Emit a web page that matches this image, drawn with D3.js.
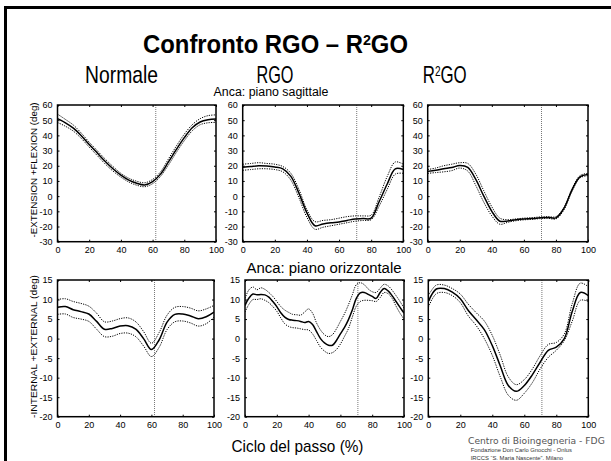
<!DOCTYPE html>
<html>
<head>
<meta charset="utf-8">
<script src="https://cdn.jsdelivr.net/npm/d3@7"></script>
<style>
  html, body { margin: 0; padding: 0; background: #fff; }
  svg { display: block; font-family: "Liberation Sans", Arial, sans-serif; }
</style>
</head>
<body>
<svg id="chart" width="611" height="461"></svg>
<script>
// ---- Gait cycle sampling (% of stride) ----
const cycle = [0,5,10,15,20,25,30,35,40,45,50,55,60,65,70,75,80,85,90,95,100];
const cycleFine = [0,2.5,5,7.5,10,12.5,15,17.5,20,22.5,25,27.5,30,32.5,35,37.5,40,42.5,45,47.5,
                   50,52.5,55,57.5,60,62.5,65,67.5,70,72.5,75,77.5,80,82.5,85,87.5,90,92.5,95,97.5,100];

// ---- Tick labels ----
const xTicks = [0,20,40,60,80,100];
const yTicksSag = [-30,-20,-10,0,10,20,30,40,50,60];
const yTicksTra = [-20,-15,-10,-5,0,5,10,15];

// ---- Toe-off (% of cycle) per group ----
const toeOff = { normale: 62, rgo: 71, r2go: 71 };

// ---- Hip, sagittal plane (deg): mean, +SD, -SD ----
const sagNormMean = [51, 48.3, 44.8, 39.8, 34, 28.5, 23, 18, 13.8, 10.5, 8.5, 7.4, 9.6, 14.5, 22.5, 30.8, 38.5, 45, 48.8, 50.3, 50.8];
const sagNormUp   = [54, 50.5, 46.8, 41.5, 35.5, 30, 24.5, 19.5, 15, 11.8, 9.8, 8.8, 11, 16, 24.5, 33, 40.8, 47, 51, 53, 53.5];
const sagNormLo   = [48.5, 46, 42.8, 38, 32.3, 26.8, 21.3, 16.5, 12.5, 9.3, 7.2, 6.2, 8.2, 13, 20.5, 28.8, 36.5, 43, 47, 48.3, 48.5];

const sagRgoMean = [19, 19.5, 20, 19.8, 19.2, 18, 13, 2, -11, -19.5, -18.3, -17.5, -17, -16, -15, -14.8, -14.5, -3.5, 8, 18, 17.5];
const sagRgoUp   = [21, 21.5, 22, 21.5, 21, 19.5, 15, 4.5, -9, -16.8, -16, -15.5, -14.5, -13.5, -13, -13, -12.5, -0.5, 13, 22.5, 21];
const sagRgoLo   = [17, 17.5, 18, 18, 17.5, 16, 10.5, -1, -14, -21.8, -20.5, -19.5, -18.5, -17.5, -16.5, -16, -15.5, -6.5, 4.5, 14.5, 15];

const sagR2Mean = [16.3, 17, 18, 18.8, 20.2, 19, 11, 0, -10, -16.5, -16.3, -15.5, -15, -14.8, -14.3, -14, -14.3, -8, 4, 12.7, 14.3];
const sagR2Up   = [17.5, 18.5, 20, 21, 22, 21.5, 14.5, 3.5, -7, -14.5, -15.5, -15, -14.5, -14.2, -13.7, -13.5, -13.5, -7.5, 4.8, 13.5, 15];
const sagR2Lo   = [15, 15.5, 16, 16.8, 18.5, 16.5, 7, -4, -13, -18.5, -17.2, -16.2, -15.6, -15.3, -14.8, -14.6, -15, -9, 3.2, 12, 13.5];

// ---- Hip, transverse plane (deg): mean, +SD, -SD ----
const traNormMean = [8, 8.2, 7.4, 6.9, 6.3, 4.4, 2.4, 2.6, 3.2, 3.3, 2.4, 0, -2.8, -0.3, 4.2, 6.2, 6.3, 5.8, 5.1, 5.6, 6.8];
const traNormUp   = [10, 10.2, 9.5, 9, 8.3, 6.5, 4.3, 4.5, 5.1, 5.3, 4.3, 1.8, -1.2, 1.6, 6, 8, 8.2, 7.8, 7.1, 7.6, 8.5];
const traNormLo   = [6.2, 6.3, 5.4, 5, 4.4, 2.4, 0.5, 0.6, 1.3, 1.4, 0.5, -1.9, -4.6, -2.2, 2.3, 4.3, 4.5, 4, 3.2, 3.8, 5.5];

const traRgoMean = [8.5, 10.4, 11.4, 11.2, 11.3, 11.2, 10.6, 9.5, 8.2, 6.6, 5.5, 4.9, 4.7, 4.6, 4.4, 4.1, 4.4, 3.6, 1.8, 0,
                    -1.1, -1.7, -1.7, -0.5, 1.2, 2.8, 4.8, 7.3, 10.3, 11.7, 11.8, 11.3, 10.8, 10.3, 11.8, 12.8, 12.2, 11, 9.5, 8, 6.5];
const traRgoUp   = [10.3, 12.5, 13.2, 12.5, 13, 12.6, 11.8, 10.8, 9.5, 8.2, 7.3, 6.7, 6.2, 6.1, 6, 6.8, 7.6, 6.5, 4, 2.2,
                    1, 0.5, 1, 2.5, 4.4, 6.3, 8.6, 11.2, 13.8, 14.3, 13.8, 12.7, 12, 11.8, 12.9, 13.9, 13.5, 12.4, 11, 9.5, 7.8];
const traRgoLo   = [6.8, 8.8, 10, 10, 10.2, 9.8, 9.2, 8.2, 7, 5.3, 3.8, 3.1, 2.8, 2.7, 2.5, 2.3, 2.2, 1.2, -0.5, -2.2,
                    -3.2, -3.8, -3.6, -2.8, -1.4, 0.5, 2.5, 5.5, 8.3, 9.5, 9.8, 9.8, 9.7, 9.5, 10.5, 11.8, 11.5, 10.3, 8.3, 6.5, 5];

const traR2Mean = [9.5, 12.7, 12.8, 11.9, 10.2, 7.2, 4.8, 2.3, -1.8, -7, -12, -13.5, -12, -9.3, -6, -3, -2.2, 0, 7, 11.8, 11];
const traR2Up   = [11, 13.7, 13.7, 12.8, 11.4, 8.8, 6.6, 4.5, 0.8, -4.3, -9.8, -11.8, -10.5, -7.8, -4.3, -1.5, -1, 1.2, 9, 14.2, 13.3];
const traR2Lo   = [8, 11.5, 11.8, 11, 9.2, 5.8, 3.3, 0, -4.3, -9.8, -14.5, -15.8, -14, -11.3, -7.7, -4.8, -3, -0.5, 4.5, 9.8, 9.5];

// ---- Layout of the six axes ----
const rowTop = { top: 105, bottom: 241.7 };
const rowBot = { top: 280, bottom: 416.7 };
const panels = [
  { xr: [57.5, 216],   row: rowTop, dom: [-30, 60], yt: yTicksSag, cyc: cycle,     mean: sagNormMean, up: sagNormUp, lo: sagNormLo, toe: toeOff.normale },
  { xr: [242.7, 403.3], row: rowTop, dom: [-30, 60], yt: yTicksSag, cyc: cycle,     mean: sagRgoMean,  up: sagRgoUp,  lo: sagRgoLo,  toe: toeOff.rgo },
  { xr: [427.7, 588],   row: rowTop, dom: [-30, 60], yt: yTicksSag, cyc: cycle,     mean: sagR2Mean,   up: sagR2Up,   lo: sagR2Lo,   toe: toeOff.r2go },
  { xr: [57.5, 214],   row: rowBot, dom: [-20, 15], yt: yTicksTra, cyc: cycle,     mean: traNormMean, up: traNormUp, lo: traNormLo, toe: toeOff.normale },
  { xr: [245, 404],     row: rowBot, dom: [-20, 15], yt: yTicksTra, cyc: cycleFine, mean: traRgoMean,  up: traRgoUp,  lo: traRgoLo,  toe: toeOff.rgo },
  { xr: [428.3, 588.3], row: rowBot, dom: [-20, 15], yt: yTicksTra, cyc: cycle,     mean: traR2Mean,   up: traR2Up,   lo: traR2Lo,   toe: toeOff.r2go }
];

const svg = d3.select('#chart');

// Slide frame (left and top edges)
svg.append('path')
  .attr('d', 'M5.5,461 V7.5 H611')
  .attr('fill', 'none').attr('stroke', '#000').attr('stroke-width', 3);

function drawPanel(p, i) {
  const x = d3.scaleLinear().domain([0, 100]).range(p.xr);
  const y = d3.scaleLinear().domain(p.dom).range([p.row.bottom, p.row.top]);
  const g = svg.append('g');

  const clipId = 'clip' + i;
  svg.append('clipPath').attr('id', clipId)
    .append('rect')
    .attr('x', p.xr[0]).attr('y', p.row.top)
    .attr('width', p.xr[1] - p.xr[0]).attr('height', p.row.bottom - p.row.top);

  const plot = g.append('g').attr('clip-path', `url(#${clipId})`);

  // toe-off marker
  plot.append('line')
    .attr('x1', x(p.toe)).attr('x2', x(p.toe))
    .attr('y1', p.row.top).attr('y2', p.row.bottom)
    .attr('stroke', '#777').attr('stroke-width', 1)
    .attr('stroke-dasharray', '1,1');

  const line = d3.line()
    .x((d, k) => x(p.cyc[k]))
    .y(d => y(d))
    .curve(d3.curveCatmullRom.alpha(0.5));

  [p.up, p.lo].forEach(s => {
    plot.append('path').attr('d', line(s))
      .attr('fill', 'none').attr('stroke', '#000')
      .attr('stroke-width', 1).attr('stroke-dasharray', '1.2,1.2');
  });
  plot.append('path').attr('d', line(p.mean))
    .attr('fill', 'none').attr('stroke', '#000').attr('stroke-width', 1.5);

  const fmt = d => String(d);
  const styleAxis = a => {
    a.attr('font-family', null).attr('font-size', 9);
    a.select('.domain').remove();
    a.selectAll('.tick line').attr('stroke', '#000');
    a.selectAll('.tick text').attr('fill', '#000');
  };

  g.append('g').attr('transform', `translate(0,${p.row.bottom})`)
    .call(d3.axisBottom(x).tickValues(xTicks).tickSizeInner(-2).tickSizeOuter(0).tickPadding(4.6).tickFormat(fmt))
    .call(styleAxis);
  g.append('g').attr('transform', `translate(0,${p.row.top})`)
    .call(d3.axisTop(x).tickValues(xTicks).tickSizeInner(-2).tickSizeOuter(0).tickFormat(''))
    .call(styleAxis);
  g.append('g').attr('transform', `translate(${p.xr[0]},0)`)
    .call(d3.axisLeft(y).tickValues(p.yt).tickSizeInner(-2).tickSizeOuter(0).tickPadding(5).tickFormat(fmt))
    .call(styleAxis);
  g.append('g').attr('transform', `translate(${p.xr[1]},0)`)
    .call(d3.axisRight(y).tickValues(p.yt).tickSizeInner(-2).tickSizeOuter(0).tickFormat(''))
    .call(styleAxis);

  g.append('rect')
    .attr('x', p.xr[0]).attr('y', p.row.top)
    .attr('width', p.xr[1] - p.xr[0]).attr('height', p.row.bottom - p.row.top)
    .attr('fill', 'none').attr('stroke', '#000').attr('stroke-width', 1.5);
}

panels.forEach(drawPanel);

// Text fitted to a given width; parts may contain {sup: '...'} pieces
function fitText(parts, px, py, width, size, opts = {}) {
  const t = svg.append('text')
    .attr('x', 0).attr('y', 0)
    .attr('text-anchor', opts.anchor || 'middle')
    .attr('font-size', size)
    .attr('fill', opts.fill || '#000')
    .attr('font-weight', opts.weight || 'normal');
  if (opts.family) t.attr('font-family', opts.family);
  let shift = 0;
  parts.forEach(part => {
    if (typeof part === 'string') {
      t.append('tspan').attr('dy', -shift).text(part);
      shift = 0;
    } else {
      const s = opts.supShift || size * 0.34;
      t.append('tspan').attr('dy', -s).attr('font-size', size * 0.6).text(part.sup);
      shift = -s;
    }
  });
  const w = t.node().getBBox().width;
  const k = width / w;
  t.attr('transform', `translate(${px},${py}) rotate(${opts.rotate || 0}) scale(${k},1)`);
  return t;
}

// Titles
fitText(['Confronto RGO \u2013 R', { sup: '2' }, 'GO'], 275.5, 53.3, 265, 25, { weight: 'bold', supShift: 8.5 });
fitText(['Normale'], 121.5, 83, 73, 24);
fitText(['RGO'], 275, 83, 37, 24);
fitText(['R', { sup: '2' }, 'GO'], 444.7, 83, 44, 24, { supShift: 7.5 });
fitText(['Anca: piano sagittale'], 271, 95.5, 115, 13.5);
fitText(['Anca: piano orizzontale'], 324, 273, 155, 15.4);
fitText(['Ciclo del passo (%)'], 297.5, 451.5, 132, 16);

// Y axis titles
fitText(['-EXTENSION +FLEXION (deg)'], 37, 170, 135, 9.7, { rotate: -90 });
fitText(['-INTERNAL +EXTERNAL (deg)'], 37, 346.5, 143, 9.7, { rotate: -90 });

// Footer credits
fitText(['Centro di Bioingegneria - FDG'], 468, 444, 137, 8.5, { anchor: 'start', fill: '#555', family: '"DejaVu Sans", Verdana, sans-serif' });
fitText(['Fondazione Don Carlo Gnocchi - Onlus'], 470.7, 452, 101, 6.2, { anchor: 'start', fill: '#333' });
fitText(['IRCCS \u201CS. Maria Nascente\u201D. Milano'], 470.7, 459.5, 93, 6.2, { anchor: 'start', fill: '#333' });
</script>
</body>
</html>
